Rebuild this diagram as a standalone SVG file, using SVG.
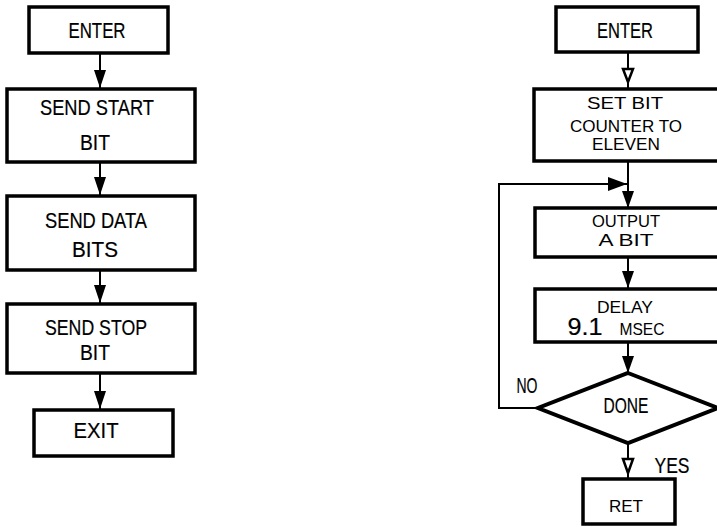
<svg xmlns="http://www.w3.org/2000/svg" width="717" height="527" viewBox="0 0 717 527">
<defs>
<style>
rect.b{fill:#fff;stroke:#000;stroke-width:3.5}
.c{stroke:#000;stroke-width:2;fill:none}
.h{fill:#fff;stroke:#000;stroke-width:2.5}
.f{fill:#000}
text{font-family:"Liberation Sans",Arial,sans-serif;fill:#000;text-anchor:middle}
.L{font-size:22px;stroke:#000;stroke-width:0.2}
.S{font-size:17px}
.N{font-size:24px;stroke:#000;stroke-width:0.2}
</style>
</defs>
<rect width="717" height="527" fill="#fff"/>
<g id="connectors">
<line class="c" x1="100" y1="54" x2="100" y2="88"/>
<polygon class="f" points="94,70 106,70 100,88"/>
<line class="c" x1="100" y1="162" x2="100" y2="195"/>
<polygon class="f" points="94,177 106,177 100,195"/>
<line class="c" x1="100" y1="270" x2="100" y2="303"/>
<polygon class="f" points="94,285 106,285 100,303"/>
<line class="c" x1="100" y1="373" x2="100" y2="409"/>
<polygon class="f" points="94,391 106,391 100,409"/>
<line class="c" x1="628" y1="53" x2="628" y2="89"/>
<polygon class="h" points="623,69 633,69 628,82"/>
<line class="c" x1="628" y1="162" x2="628" y2="208"/>
<polygon class="f" points="622,191 634,191 628,208"/>
<polyline class="c" points="537,408 499,408 499,184 627,184"/>
<polygon class="f" points="608,177 608,191 627,184"/>
<line class="c" x1="628" y1="257" x2="628" y2="288"/>
<polygon class="f" points="622,271 634,271 628,288"/>
<line class="c" x1="628" y1="342" x2="628" y2="373"/>
<polygon class="f" points="622,356 634,356 628,373"/>
<line class="c" x1="628" y1="443" x2="628" y2="478"/>
<polygon class="h" points="623,459 633,459 628,473"/>
</g>
<g id="l-enter"><rect class="b" x="29" y="7" width="139" height="46"/><text class="L" x="97" y="38" textLength="57" lengthAdjust="spacingAndGlyphs">ENTER</text></g>
<g id="l-start"><rect class="b" x="7" y="89" width="188" height="73"/><text class="L" x="97" y="115" textLength="114" lengthAdjust="spacingAndGlyphs">SEND START</text><text class="L" x="95" y="150" textLength="30" lengthAdjust="spacingAndGlyphs">BIT</text></g>
<g id="l-data"><rect class="b" x="7" y="196" width="188" height="74"/><text class="L" x="96" y="228" textLength="102" lengthAdjust="spacingAndGlyphs">SEND DATA</text><text class="L" x="95" y="257" textLength="46" lengthAdjust="spacingAndGlyphs">BITS</text></g>
<g id="l-stop"><rect class="b" x="7" y="304" width="188" height="69"/><text class="L" x="96" y="335" textLength="102" lengthAdjust="spacingAndGlyphs">SEND STOP</text><text class="L" x="95" y="360" textLength="30" lengthAdjust="spacingAndGlyphs">BIT</text></g>
<g id="l-exit"><rect class="b" x="34" y="410" width="139" height="46"/><text class="L" x="96" y="438" textLength="45" lengthAdjust="spacingAndGlyphs">EXIT</text></g>
<g id="r-enter"><rect class="b" x="556" y="7" width="142" height="45"/><text class="L" x="625" y="38" textLength="56" lengthAdjust="spacingAndGlyphs">ENTER</text></g>
<g id="r-set"><rect class="b" x="534" y="89" width="190" height="72"/><text class="S" x="625" y="109" textLength="76" lengthAdjust="spacingAndGlyphs">SET BIT</text><text class="S" x="626" y="132" textLength="112" lengthAdjust="spacingAndGlyphs">COUNTER TO</text><text class="S" x="626" y="150" textLength="68" lengthAdjust="spacingAndGlyphs">ELEVEN</text></g>
<g id="r-output"><rect class="b" x="535" y="208" width="190" height="49"/><text class="S" x="626" y="227" textLength="68" lengthAdjust="spacingAndGlyphs">OUTPUT</text><text class="S" x="626" y="246" textLength="55" lengthAdjust="spacingAndGlyphs">A BIT</text></g>
<g id="r-delay"><rect class="b" x="535" y="289" width="190" height="53"/><text class="S" x="625" y="313" textLength="56" lengthAdjust="spacingAndGlyphs">DELAY</text><text class="N" x="585" y="335" textLength="35" lengthAdjust="spacingAndGlyphs">9.1</text><text class="S" x="642" y="335" textLength="45" lengthAdjust="spacingAndGlyphs">MSEC</text></g>
<g id="r-done"><polygon points="628,373 718,408 628,443 538,408" fill="#fff" stroke="#000" stroke-width="4"/><text class="L" x="626" y="413" textLength="45" lengthAdjust="spacingAndGlyphs">DONE</text></g>
<g id="labels"><text class="L" x="527" y="393" textLength="21" lengthAdjust="spacingAndGlyphs">NO</text><text class="L" x="672" y="473" textLength="35" lengthAdjust="spacingAndGlyphs">YES</text></g>
<g id="r-ret"><rect class="b" x="583" y="479" width="92" height="45"/><text class="S" x="626" y="512" textLength="34" lengthAdjust="spacingAndGlyphs">RET</text></g>
</svg>
